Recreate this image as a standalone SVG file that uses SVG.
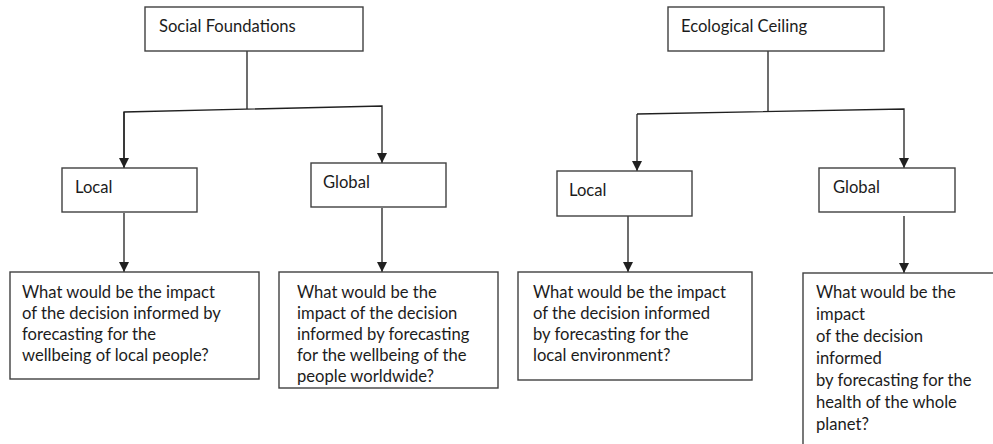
<svg xmlns="http://www.w3.org/2000/svg" width="993" height="444" viewBox="0 0 993 444">
<style>
.box{fill:#fff;stroke:#404040;stroke-width:1.4}
.t{font-family:Lato,"Open Sans","Liberation Sans",sans-serif;font-size:16.6px;fill:#1c1c1c}
.c{fill:none;stroke:#202020;stroke-width:1.3}
</style>
<defs>
<marker id="ah" viewBox="0 0 10 10" refX="10" refY="5" markerWidth="10" markerHeight="10" markerUnits="userSpaceOnUse" orient="auto">
<path d="M0,0 L10,5 L0,10 Z" fill="#202020"/>
</marker>
</defs>
<rect width="993" height="444" fill="#fff"/>
<g id="connectors">
<path class="c" d="M247,51 V109"/>
<path class="c" d="M124,168 V112 L382,106 V163" marker-end="url(#ah)"/>
<path class="c" d="M124,112 V168" marker-end="url(#ah)"/>
<path class="c" d="M124,213 V272" marker-end="url(#ah)"/>
<path class="c" d="M382,208 V272" marker-end="url(#ah)"/>
<path class="c" d="M768,51 V112"/>
<path class="c" d="M637,114 L904,109 V168" marker-end="url(#ah)"/>
<path class="c" d="M637,114 V171" marker-end="url(#ah)"/>
<path class="c" d="M628,216 V272" marker-end="url(#ah)"/>
<path class="c" d="M904,216 V273" marker-end="url(#ah)"/>
</g>
<g id="social-foundations">
<rect class="box" x="145" y="7" width="218" height="44"/>
<text class="t" x="159" y="32">Social Foundations</text>
</g>
<g id="ecological-ceiling">
<rect class="box" x="668" y="7" width="216" height="44"/>
<text class="t" x="681" y="32">Ecological Ceiling</text>
</g>
<g id="sf-local">
<rect class="box" x="62" y="168" width="135" height="44"/>
<text class="t" x="75" y="193">Local</text>
</g>
<g id="sf-global">
<rect class="box" x="311" y="163" width="135" height="44"/>
<text class="t" x="323" y="188">Global</text>
</g>
<g id="ec-local">
<rect class="box" x="557" y="171" width="135" height="45"/>
<text class="t" x="569" y="196">Local</text>
</g>
<g id="ec-global">
<rect class="box" x="819" y="168" width="136" height="44"/>
<text class="t" x="833" y="193">Global</text>
</g>
<g id="q-sf-local">
<rect class="box" x="10" y="272" width="249" height="107"/>
<text class="t" x="22" y="298">
<tspan x="22">What would be the impact</tspan>
<tspan x="22" dy="21">of the decision informed by</tspan>
<tspan x="22" dy="21">forecasting for the</tspan>
<tspan x="22" dy="21">wellbeing of local people?</tspan>
</text>
</g>
<g id="q-sf-global">
<rect class="box" x="279" y="272" width="219" height="116"/>
<text class="t" x="297" y="298">
<tspan x="297">What would be the</tspan>
<tspan x="297" dy="21">impact of the decision</tspan>
<tspan x="297" dy="21">informed by forecasting</tspan>
<tspan x="297" dy="21">for the wellbeing of the</tspan>
<tspan x="297" dy="21">people worldwide?</tspan>
</text>
</g>
<g id="q-ec-local">
<rect class="box" x="518" y="272" width="234" height="108"/>
<text class="t" x="533" y="298">
<tspan x="533">What would be the impact</tspan>
<tspan x="533" dy="21">of the decision informed</tspan>
<tspan x="533" dy="21">by forecasting for the</tspan>
<tspan x="533" dy="21">local environment?</tspan>
</text>
</g>
<g id="q-ec-global">
<rect class="box" x="803" y="273" width="200" height="190"/>
<text class="t" x="816" y="298">
<tspan x="816">What would be the</tspan>
<tspan x="816" dy="22">impact</tspan>
<tspan x="816" dy="22">of the decision</tspan>
<tspan x="816" dy="22">informed</tspan>
<tspan x="816" dy="22">by forecasting for the</tspan>
<tspan x="816" dy="22">health of the whole</tspan>
<tspan x="816" dy="22">planet?</tspan>
</text>
</g>
</svg>
